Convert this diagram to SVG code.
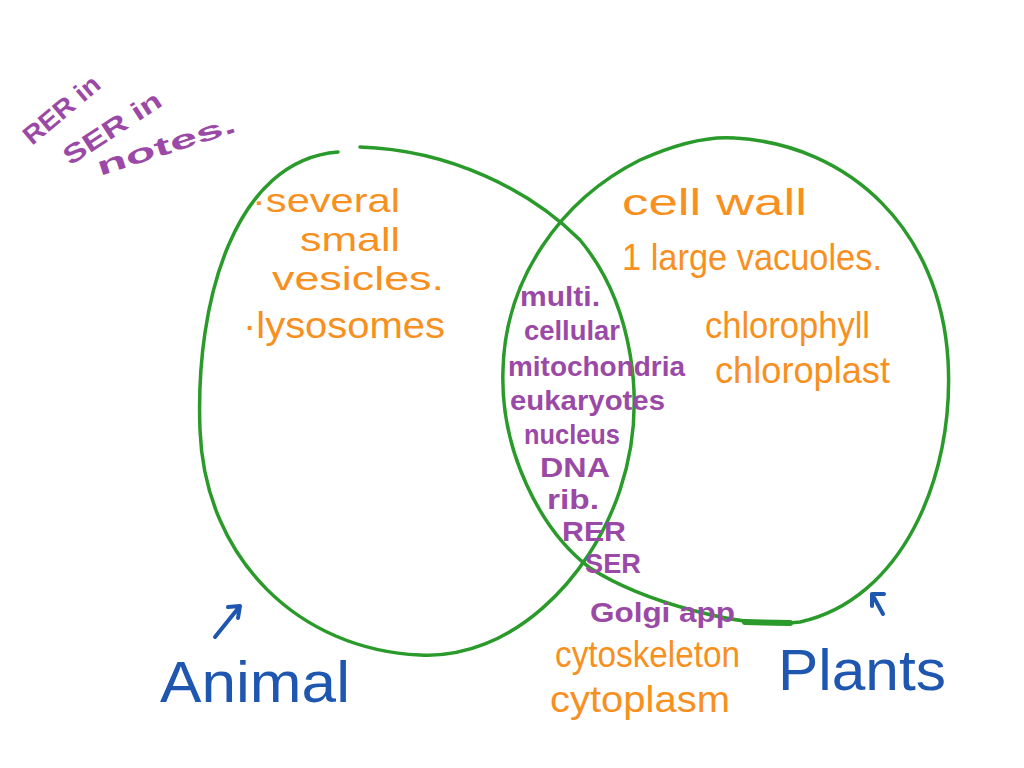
<svg xmlns="http://www.w3.org/2000/svg" width="1024" height="768" viewBox="0 0 1024 768">
<defs>
<style>
text{font-family:"Liberation Sans","DejaVu Sans",sans-serif;}
.o{fill:#F7901E;font-size:36px;}
.s{fill:#F7901E;font-size:33px;}
.p{fill:#9A4AA6;font-size:28px;font-weight:bold;}
.n{fill:#9A4AA6;font-size:26px;font-weight:bold;}
.b{fill:#1E56B0;font-size:58px;}
.c{fill:none;stroke:#2A9A2A;stroke-width:3.5;stroke-linecap:round;}
.a{fill:none;stroke:#1E56B0;stroke-width:4;stroke-linecap:round;stroke-linejoin:round;}
</style>
</defs>
<rect width="1024" height="768" fill="#FFFFFF"/>
<g id="connectors">
<path class="c" d="M360,147 C450,150 530,190 580,240 C630,300 650,400 620,490 C590,580 510,660 420,655 C300,650 205,560 200,430 C195,300 235,160 338,152"/>
<path class="c" d="M735,138 C850,145 940,230 948,360 C955,480 900,600 800,622 C740,630 640,600 590,568 C540,530 500,450 503,370 C505,280 560,200 640,160 C680,142 710,136 735,138"/>
<path class="c" style="stroke-width:6" d="M745,622 L790,623"/>
<path class="a" d="M215,637 L240,606 M228,607 L240,606 L238,618"/>
<path class="a" d="M883,614 L872,594 M872,606 L872,594 L884,594"/>
</g>
<g id="note">
<text class="n" x="32" y="146" transform="rotate(-40 32 146)" textLength="92" lengthAdjust="spacingAndGlyphs">RER in</text>
<text class="n" x="70" y="166" transform="rotate(-33 70 166)" textLength="112" lengthAdjust="spacingAndGlyphs">SER in</text>
<text class="n" x="100" y="176" transform="rotate(-18 100 176)" textLength="145" lengthAdjust="spacingAndGlyphs">notes.</text>
</g>
<g id="animal">
<text class="s" x="252" y="212" textLength="148" lengthAdjust="spacingAndGlyphs">·several</text>
<text class="s" x="300" y="251" textLength="100" lengthAdjust="spacingAndGlyphs">small</text>
<text class="s" x="272" y="290" textLength="172" lengthAdjust="spacingAndGlyphs">vesicles.</text>
<text class="o" x="243" y="338" textLength="202" lengthAdjust="spacingAndGlyphs">·lysosomes</text>
<text class="b" x="160" y="702" textLength="190" lengthAdjust="spacingAndGlyphs">Animal</text>
</g>
<g id="plants">
<text class="o" x="622" y="215" textLength="185" lengthAdjust="spacingAndGlyphs">cell wall</text>
<text class="o" x="622" y="270" textLength="260" lengthAdjust="spacingAndGlyphs">1 large vacuoles.</text>
<text class="o" x="705" y="338" textLength="165" lengthAdjust="spacingAndGlyphs">chlorophyll</text>
<text class="o" x="715" y="383" textLength="175" lengthAdjust="spacingAndGlyphs">chloroplast</text>
<text class="b" x="778" y="690" textLength="168" lengthAdjust="spacingAndGlyphs">Plants</text>
</g>
<g id="both">
<text class="p" x="520" y="306" textLength="80" lengthAdjust="spacingAndGlyphs">multi.</text>
<text class="p" x="524" y="340" textLength="96" lengthAdjust="spacingAndGlyphs">cellular</text>
<text class="p" x="508" y="376" textLength="177" lengthAdjust="spacingAndGlyphs">mitochondria</text>
<text class="p" x="510" y="410" textLength="155" lengthAdjust="spacingAndGlyphs">eukaryotes</text>
<text class="p" x="524" y="444" textLength="96" lengthAdjust="spacingAndGlyphs">nucleus</text>
<text class="p" x="540" y="477" textLength="70" lengthAdjust="spacingAndGlyphs">DNA</text>
<text class="p" x="547" y="509" textLength="52" lengthAdjust="spacingAndGlyphs">rib.</text>
<text class="p" x="562" y="541" textLength="64" lengthAdjust="spacingAndGlyphs">RER</text>
<text class="p" x="585" y="573" textLength="56" lengthAdjust="spacingAndGlyphs">SER</text>
<text class="p" x="590" y="622" textLength="145" lengthAdjust="spacingAndGlyphs">Golgi app</text>
<text class="o" x="555" y="667" textLength="185" lengthAdjust="spacingAndGlyphs">cytoskeleton</text>
<text class="o" x="550" y="712" textLength="180" lengthAdjust="spacingAndGlyphs">cytoplasm</text>
</g>
</svg>
